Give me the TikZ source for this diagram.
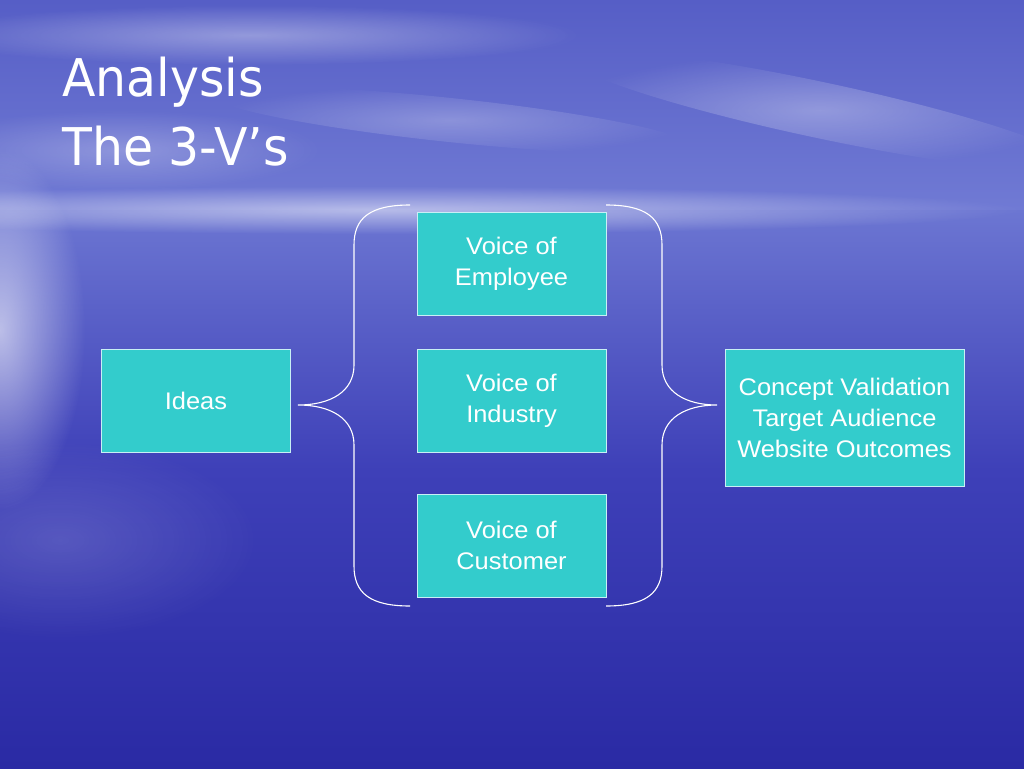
\documentclass[tikz,border=0pt]{standalone}
\usepackage{fontspec}
\setmainfont[FakeStretch=1.06]{Liberation Sans}
\newfontfamily\titlefont[FakeStretch=0.94]{DejaVu Sans}
\usetikzlibrary{fadings}
\tikzfading[name=softglow, inner color=transparent!0, outer color=transparent!100]
\definecolor{boxcyan}{RGB}{51,204,204}
\definecolor{boxline}{RGB}{200,240,245}
\definecolor{skytop}{RGB}{86,94,198}
\definecolor{horizon}{RGB}{112,122,212}
\definecolor{seatop}{RGB}{108,118,210}
\definecolor{seamid}{RGB}{62,64,184}
\definecolor{seabot}{RGB}{42,42,164}
\tikzset{
  vbox/.style={rectangle, fill=boxcyan, draw=boxline, line width=1pt, text=white,
    align=center, inner sep=0pt, font=\fontsize{24}{31}\selectfont},
  brace/.style={draw=white, line width=1.1pt},
  titletext/.style={anchor=base west, inner sep=0pt, text=white, font=\titlefont\fontsize{52}{69}\selectfont},
  streak/.style={white, path fading=softglow}
}
\begin{document}
\begin{tikzpicture}[x=1pt, y=-1pt]
  \useasboundingbox (0,0) rectangle (1024,768);
  % background
  \shade[top color=skytop, bottom color=horizon] (0,0) rectangle (1024,210);
  \shade[top color=seatop, bottom color=seamid] (0,210) rectangle (1024,470);
  \shade[top color=seamid, bottom color=seabot] (0,470) rectangle (1024,768);
  \fill[streak, fill opacity=0.5] (380,210) ellipse (640 and 24);
  \fill[streak, fill opacity=0.6] (0,330) ellipse (85 and 180);
  \fill[streak, fill opacity=0.15] (60,540) ellipse (200 and 100);
  \fill[streak, fill opacity=0.35] (250,35) ellipse (330 and 30);
  \fill[streak, fill opacity=0.3, rotate around={-12:(820,110)}] (820,110) ellipse (260 and 28);
  \fill[streak, fill opacity=0.25, rotate around={-6:(450,120)}] (450,120) ellipse (240 and 22);
  \fill[streak, fill opacity=0.25] (120,150) ellipse (200 and 40);
  % title
  \node (title1) [titletext] at (62,96) {Analysis};
  \node (title2) [titletext] at (62,165) {The 3-V’s};
  % boxes
  \node (ideas) at (196,400.5) [vbox, minimum width=189, minimum height=103] {Ideas};
  \node (employee) at (511.5,264) [vbox, minimum width=189, minimum height=103] {Voice of\\Employee};
  \node (industry) at (511.5,400.5) [vbox, minimum width=189, minimum height=103] {Voice of\\Industry};
  \node (customer) at (511.5,545.5) [vbox, minimum width=189, minimum height=103] {Voice of\\Customer};
  \node (outcome) at (844.5,417.5) [vbox, minimum width=239, minimum height=137] {Concept Validation\\Target Audience\\Website Outcomes};
  % braces
  \coordinate (ltop) at (410,205);
  \coordinate (lbot) at (410,606);
  \coordinate (ltip) at (298,405);
  \coordinate (rtop) at (606,205);
  \coordinate (rbot) at (606,606);
  \coordinate (rtip) at (717,405);
  \path[brace] (ltop) .. controls (370,205) and (354,218) .. (354,245) -- (354,365)
    .. controls (354,392) and (330,405) .. (ltip)
    .. controls (330,405) and (354,418) .. (354,445) -- (354,566)
    .. controls (354,593) and (370,606) .. (lbot);
  \path[brace] (rtop) .. controls (646,205) and (662,218) .. (662,245) -- (662,365)
    .. controls (662,392) and (686,405) .. (rtip)
    .. controls (686,405) and (662,418) .. (662,445) -- (662,566)
    .. controls (662,593) and (646,606) .. (rbot);
\end{tikzpicture}
\end{document}
